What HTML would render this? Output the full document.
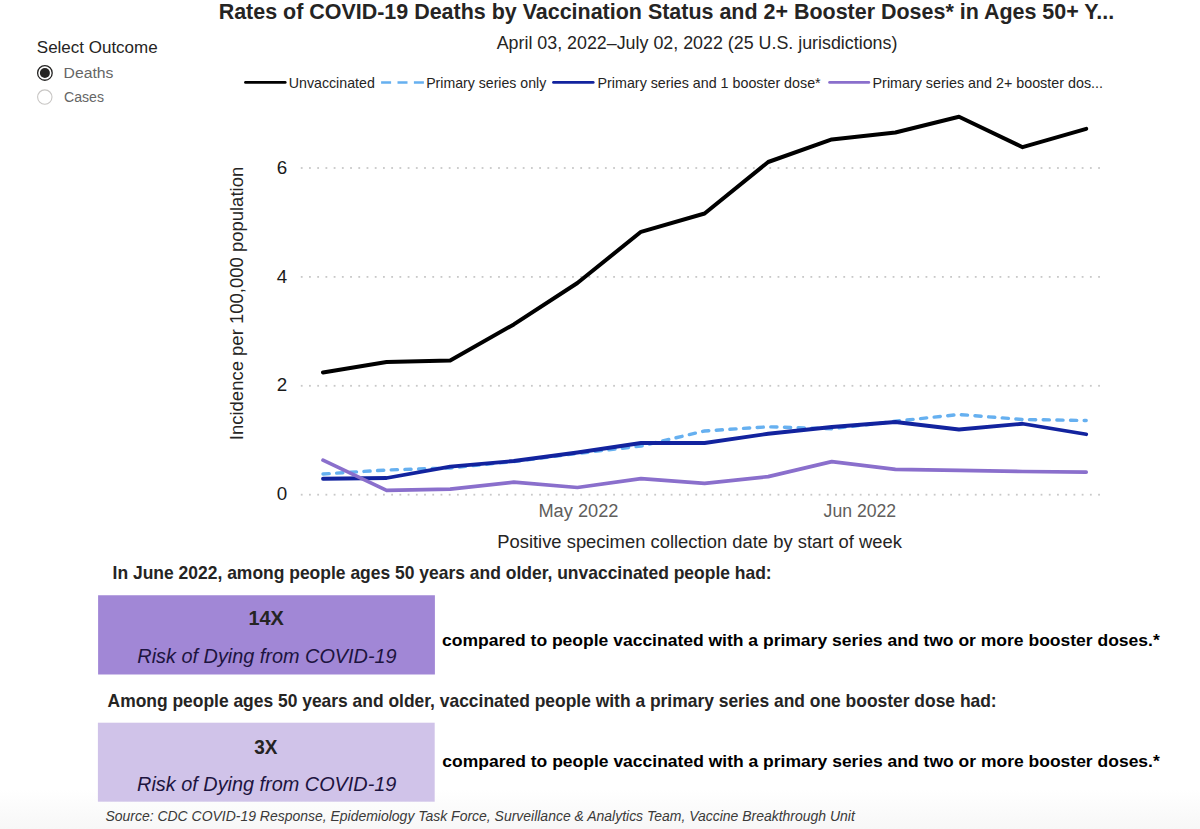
<!DOCTYPE html>
<html><head><meta charset="utf-8"><title>COVID-19 Deaths by Vaccination Status</title>
<style>
html,body{margin:0;padding:0;background:#fff;}
body{width:1200px;height:829px;overflow:hidden;position:relative;font-family:"Liberation Sans",sans-serif;}
.fade{position:absolute;left:0;top:790px;width:1200px;height:39px;background:linear-gradient(#ffffff,#f7f7f7);}
svg{position:absolute;left:0;top:0;}
svg text{font-family:"Liberation Sans",sans-serif;}
</style></head>
<body>
<div class="fade"></div>
<svg width="1200" height="829" viewBox="0 0 1200 829">
<circle cx="44.9" cy="72.95" r="7.3" fill="#fff" stroke="#252423" stroke-width="1.3"/>
<circle cx="44.9" cy="72.95" r="5" fill="#252423"/>
<circle cx="44.8" cy="97.1" r="7.2" fill="#fff" stroke="#c8c6c4" stroke-width="1.1"/>
<line x1="245.5" y1="82.4" x2="285.2" y2="82.4" stroke="#000000" stroke-width="2.8" stroke-linecap="round"/>
<line x1="381.1" y1="82.5" x2="424" y2="82.5" stroke="#66b0f0" stroke-width="2.6" stroke-dasharray="10,6.4"/>
<line x1="553.5" y1="82.4" x2="593.2" y2="82.4" stroke="#12239e" stroke-width="2.8" stroke-linecap="round"/>
<line x1="829.6" y1="82.4" x2="868.8" y2="82.4" stroke="#8a6fcc" stroke-width="2.8" stroke-linecap="round"/>
<rect x="300.80" y="167.10" width="1.8" height="1.8" fill="#c8c8c8"/><rect x="309.02" y="167.10" width="1.8" height="1.8" fill="#c8c8c8"/><rect x="317.24" y="167.10" width="1.8" height="1.8" fill="#c8c8c8"/><rect x="325.46" y="167.10" width="1.8" height="1.8" fill="#c8c8c8"/><rect x="333.68" y="167.10" width="1.8" height="1.8" fill="#c8c8c8"/><rect x="341.90" y="167.10" width="1.8" height="1.8" fill="#c8c8c8"/><rect x="350.12" y="167.10" width="1.8" height="1.8" fill="#c8c8c8"/><rect x="358.34" y="167.10" width="1.8" height="1.8" fill="#c8c8c8"/><rect x="366.56" y="167.10" width="1.8" height="1.8" fill="#c8c8c8"/><rect x="374.78" y="167.10" width="1.8" height="1.8" fill="#c8c8c8"/><rect x="383.00" y="167.10" width="1.8" height="1.8" fill="#c8c8c8"/><rect x="391.22" y="167.10" width="1.8" height="1.8" fill="#c8c8c8"/><rect x="399.44" y="167.10" width="1.8" height="1.8" fill="#c8c8c8"/><rect x="407.66" y="167.10" width="1.8" height="1.8" fill="#c8c8c8"/><rect x="415.88" y="167.10" width="1.8" height="1.8" fill="#c8c8c8"/><rect x="424.10" y="167.10" width="1.8" height="1.8" fill="#c8c8c8"/><rect x="432.32" y="167.10" width="1.8" height="1.8" fill="#c8c8c8"/><rect x="440.54" y="167.10" width="1.8" height="1.8" fill="#c8c8c8"/><rect x="448.76" y="167.10" width="1.8" height="1.8" fill="#c8c8c8"/><rect x="456.98" y="167.10" width="1.8" height="1.8" fill="#c8c8c8"/><rect x="465.20" y="167.10" width="1.8" height="1.8" fill="#c8c8c8"/><rect x="473.42" y="167.10" width="1.8" height="1.8" fill="#c8c8c8"/><rect x="481.64" y="167.10" width="1.8" height="1.8" fill="#c8c8c8"/><rect x="489.86" y="167.10" width="1.8" height="1.8" fill="#c8c8c8"/><rect x="498.08" y="167.10" width="1.8" height="1.8" fill="#c8c8c8"/><rect x="506.30" y="167.10" width="1.8" height="1.8" fill="#c8c8c8"/><rect x="514.52" y="167.10" width="1.8" height="1.8" fill="#c8c8c8"/><rect x="522.74" y="167.10" width="1.8" height="1.8" fill="#c8c8c8"/><rect x="530.96" y="167.10" width="1.8" height="1.8" fill="#c8c8c8"/><rect x="539.18" y="167.10" width="1.8" height="1.8" fill="#c8c8c8"/><rect x="547.40" y="167.10" width="1.8" height="1.8" fill="#c8c8c8"/><rect x="555.62" y="167.10" width="1.8" height="1.8" fill="#c8c8c8"/><rect x="563.84" y="167.10" width="1.8" height="1.8" fill="#c8c8c8"/><rect x="572.06" y="167.10" width="1.8" height="1.8" fill="#c8c8c8"/><rect x="580.28" y="167.10" width="1.8" height="1.8" fill="#c8c8c8"/><rect x="588.50" y="167.10" width="1.8" height="1.8" fill="#c8c8c8"/><rect x="596.72" y="167.10" width="1.8" height="1.8" fill="#c8c8c8"/><rect x="604.94" y="167.10" width="1.8" height="1.8" fill="#c8c8c8"/><rect x="613.16" y="167.10" width="1.8" height="1.8" fill="#c8c8c8"/><rect x="621.38" y="167.10" width="1.8" height="1.8" fill="#c8c8c8"/><rect x="629.60" y="167.10" width="1.8" height="1.8" fill="#c8c8c8"/><rect x="637.82" y="167.10" width="1.8" height="1.8" fill="#c8c8c8"/><rect x="646.04" y="167.10" width="1.8" height="1.8" fill="#c8c8c8"/><rect x="654.26" y="167.10" width="1.8" height="1.8" fill="#c8c8c8"/><rect x="662.48" y="167.10" width="1.8" height="1.8" fill="#c8c8c8"/><rect x="670.70" y="167.10" width="1.8" height="1.8" fill="#c8c8c8"/><rect x="678.92" y="167.10" width="1.8" height="1.8" fill="#c8c8c8"/><rect x="687.14" y="167.10" width="1.8" height="1.8" fill="#c8c8c8"/><rect x="695.36" y="167.10" width="1.8" height="1.8" fill="#c8c8c8"/><rect x="703.58" y="167.10" width="1.8" height="1.8" fill="#c8c8c8"/><rect x="711.80" y="167.10" width="1.8" height="1.8" fill="#c8c8c8"/><rect x="720.02" y="167.10" width="1.8" height="1.8" fill="#c8c8c8"/><rect x="728.24" y="167.10" width="1.8" height="1.8" fill="#c8c8c8"/><rect x="736.46" y="167.10" width="1.8" height="1.8" fill="#c8c8c8"/><rect x="744.68" y="167.10" width="1.8" height="1.8" fill="#c8c8c8"/><rect x="752.90" y="167.10" width="1.8" height="1.8" fill="#c8c8c8"/><rect x="761.12" y="167.10" width="1.8" height="1.8" fill="#c8c8c8"/><rect x="769.34" y="167.10" width="1.8" height="1.8" fill="#c8c8c8"/><rect x="777.56" y="167.10" width="1.8" height="1.8" fill="#c8c8c8"/><rect x="785.78" y="167.10" width="1.8" height="1.8" fill="#c8c8c8"/><rect x="794.00" y="167.10" width="1.8" height="1.8" fill="#c8c8c8"/><rect x="802.22" y="167.10" width="1.8" height="1.8" fill="#c8c8c8"/><rect x="810.44" y="167.10" width="1.8" height="1.8" fill="#c8c8c8"/><rect x="818.66" y="167.10" width="1.8" height="1.8" fill="#c8c8c8"/><rect x="826.88" y="167.10" width="1.8" height="1.8" fill="#c8c8c8"/><rect x="835.10" y="167.10" width="1.8" height="1.8" fill="#c8c8c8"/><rect x="843.32" y="167.10" width="1.8" height="1.8" fill="#c8c8c8"/><rect x="851.54" y="167.10" width="1.8" height="1.8" fill="#c8c8c8"/><rect x="859.76" y="167.10" width="1.8" height="1.8" fill="#c8c8c8"/><rect x="867.98" y="167.10" width="1.8" height="1.8" fill="#c8c8c8"/><rect x="876.20" y="167.10" width="1.8" height="1.8" fill="#c8c8c8"/><rect x="884.42" y="167.10" width="1.8" height="1.8" fill="#c8c8c8"/><rect x="892.64" y="167.10" width="1.8" height="1.8" fill="#c8c8c8"/><rect x="900.86" y="167.10" width="1.8" height="1.8" fill="#c8c8c8"/><rect x="909.08" y="167.10" width="1.8" height="1.8" fill="#c8c8c8"/><rect x="917.30" y="167.10" width="1.8" height="1.8" fill="#c8c8c8"/><rect x="925.52" y="167.10" width="1.8" height="1.8" fill="#c8c8c8"/><rect x="933.74" y="167.10" width="1.8" height="1.8" fill="#c8c8c8"/><rect x="941.96" y="167.10" width="1.8" height="1.8" fill="#c8c8c8"/><rect x="950.18" y="167.10" width="1.8" height="1.8" fill="#c8c8c8"/><rect x="958.40" y="167.10" width="1.8" height="1.8" fill="#c8c8c8"/><rect x="966.62" y="167.10" width="1.8" height="1.8" fill="#c8c8c8"/><rect x="974.84" y="167.10" width="1.8" height="1.8" fill="#c8c8c8"/><rect x="983.06" y="167.10" width="1.8" height="1.8" fill="#c8c8c8"/><rect x="991.28" y="167.10" width="1.8" height="1.8" fill="#c8c8c8"/><rect x="999.50" y="167.10" width="1.8" height="1.8" fill="#c8c8c8"/><rect x="1007.72" y="167.10" width="1.8" height="1.8" fill="#c8c8c8"/><rect x="1015.94" y="167.10" width="1.8" height="1.8" fill="#c8c8c8"/><rect x="1024.16" y="167.10" width="1.8" height="1.8" fill="#c8c8c8"/><rect x="1032.38" y="167.10" width="1.8" height="1.8" fill="#c8c8c8"/><rect x="1040.60" y="167.10" width="1.8" height="1.8" fill="#c8c8c8"/><rect x="1048.82" y="167.10" width="1.8" height="1.8" fill="#c8c8c8"/><rect x="1057.04" y="167.10" width="1.8" height="1.8" fill="#c8c8c8"/><rect x="1065.26" y="167.10" width="1.8" height="1.8" fill="#c8c8c8"/><rect x="1073.48" y="167.10" width="1.8" height="1.8" fill="#c8c8c8"/><rect x="1081.70" y="167.10" width="1.8" height="1.8" fill="#c8c8c8"/><rect x="1089.92" y="167.10" width="1.8" height="1.8" fill="#c8c8c8"/><rect x="1098.14" y="167.10" width="1.8" height="1.8" fill="#c8c8c8"/><rect x="300.80" y="276.00" width="1.8" height="1.8" fill="#c8c8c8"/><rect x="309.02" y="276.00" width="1.8" height="1.8" fill="#c8c8c8"/><rect x="317.24" y="276.00" width="1.8" height="1.8" fill="#c8c8c8"/><rect x="325.46" y="276.00" width="1.8" height="1.8" fill="#c8c8c8"/><rect x="333.68" y="276.00" width="1.8" height="1.8" fill="#c8c8c8"/><rect x="341.90" y="276.00" width="1.8" height="1.8" fill="#c8c8c8"/><rect x="350.12" y="276.00" width="1.8" height="1.8" fill="#c8c8c8"/><rect x="358.34" y="276.00" width="1.8" height="1.8" fill="#c8c8c8"/><rect x="366.56" y="276.00" width="1.8" height="1.8" fill="#c8c8c8"/><rect x="374.78" y="276.00" width="1.8" height="1.8" fill="#c8c8c8"/><rect x="383.00" y="276.00" width="1.8" height="1.8" fill="#c8c8c8"/><rect x="391.22" y="276.00" width="1.8" height="1.8" fill="#c8c8c8"/><rect x="399.44" y="276.00" width="1.8" height="1.8" fill="#c8c8c8"/><rect x="407.66" y="276.00" width="1.8" height="1.8" fill="#c8c8c8"/><rect x="415.88" y="276.00" width="1.8" height="1.8" fill="#c8c8c8"/><rect x="424.10" y="276.00" width="1.8" height="1.8" fill="#c8c8c8"/><rect x="432.32" y="276.00" width="1.8" height="1.8" fill="#c8c8c8"/><rect x="440.54" y="276.00" width="1.8" height="1.8" fill="#c8c8c8"/><rect x="448.76" y="276.00" width="1.8" height="1.8" fill="#c8c8c8"/><rect x="456.98" y="276.00" width="1.8" height="1.8" fill="#c8c8c8"/><rect x="465.20" y="276.00" width="1.8" height="1.8" fill="#c8c8c8"/><rect x="473.42" y="276.00" width="1.8" height="1.8" fill="#c8c8c8"/><rect x="481.64" y="276.00" width="1.8" height="1.8" fill="#c8c8c8"/><rect x="489.86" y="276.00" width="1.8" height="1.8" fill="#c8c8c8"/><rect x="498.08" y="276.00" width="1.8" height="1.8" fill="#c8c8c8"/><rect x="506.30" y="276.00" width="1.8" height="1.8" fill="#c8c8c8"/><rect x="514.52" y="276.00" width="1.8" height="1.8" fill="#c8c8c8"/><rect x="522.74" y="276.00" width="1.8" height="1.8" fill="#c8c8c8"/><rect x="530.96" y="276.00" width="1.8" height="1.8" fill="#c8c8c8"/><rect x="539.18" y="276.00" width="1.8" height="1.8" fill="#c8c8c8"/><rect x="547.40" y="276.00" width="1.8" height="1.8" fill="#c8c8c8"/><rect x="555.62" y="276.00" width="1.8" height="1.8" fill="#c8c8c8"/><rect x="563.84" y="276.00" width="1.8" height="1.8" fill="#c8c8c8"/><rect x="572.06" y="276.00" width="1.8" height="1.8" fill="#c8c8c8"/><rect x="580.28" y="276.00" width="1.8" height="1.8" fill="#c8c8c8"/><rect x="588.50" y="276.00" width="1.8" height="1.8" fill="#c8c8c8"/><rect x="596.72" y="276.00" width="1.8" height="1.8" fill="#c8c8c8"/><rect x="604.94" y="276.00" width="1.8" height="1.8" fill="#c8c8c8"/><rect x="613.16" y="276.00" width="1.8" height="1.8" fill="#c8c8c8"/><rect x="621.38" y="276.00" width="1.8" height="1.8" fill="#c8c8c8"/><rect x="629.60" y="276.00" width="1.8" height="1.8" fill="#c8c8c8"/><rect x="637.82" y="276.00" width="1.8" height="1.8" fill="#c8c8c8"/><rect x="646.04" y="276.00" width="1.8" height="1.8" fill="#c8c8c8"/><rect x="654.26" y="276.00" width="1.8" height="1.8" fill="#c8c8c8"/><rect x="662.48" y="276.00" width="1.8" height="1.8" fill="#c8c8c8"/><rect x="670.70" y="276.00" width="1.8" height="1.8" fill="#c8c8c8"/><rect x="678.92" y="276.00" width="1.8" height="1.8" fill="#c8c8c8"/><rect x="687.14" y="276.00" width="1.8" height="1.8" fill="#c8c8c8"/><rect x="695.36" y="276.00" width="1.8" height="1.8" fill="#c8c8c8"/><rect x="703.58" y="276.00" width="1.8" height="1.8" fill="#c8c8c8"/><rect x="711.80" y="276.00" width="1.8" height="1.8" fill="#c8c8c8"/><rect x="720.02" y="276.00" width="1.8" height="1.8" fill="#c8c8c8"/><rect x="728.24" y="276.00" width="1.8" height="1.8" fill="#c8c8c8"/><rect x="736.46" y="276.00" width="1.8" height="1.8" fill="#c8c8c8"/><rect x="744.68" y="276.00" width="1.8" height="1.8" fill="#c8c8c8"/><rect x="752.90" y="276.00" width="1.8" height="1.8" fill="#c8c8c8"/><rect x="761.12" y="276.00" width="1.8" height="1.8" fill="#c8c8c8"/><rect x="769.34" y="276.00" width="1.8" height="1.8" fill="#c8c8c8"/><rect x="777.56" y="276.00" width="1.8" height="1.8" fill="#c8c8c8"/><rect x="785.78" y="276.00" width="1.8" height="1.8" fill="#c8c8c8"/><rect x="794.00" y="276.00" width="1.8" height="1.8" fill="#c8c8c8"/><rect x="802.22" y="276.00" width="1.8" height="1.8" fill="#c8c8c8"/><rect x="810.44" y="276.00" width="1.8" height="1.8" fill="#c8c8c8"/><rect x="818.66" y="276.00" width="1.8" height="1.8" fill="#c8c8c8"/><rect x="826.88" y="276.00" width="1.8" height="1.8" fill="#c8c8c8"/><rect x="835.10" y="276.00" width="1.8" height="1.8" fill="#c8c8c8"/><rect x="843.32" y="276.00" width="1.8" height="1.8" fill="#c8c8c8"/><rect x="851.54" y="276.00" width="1.8" height="1.8" fill="#c8c8c8"/><rect x="859.76" y="276.00" width="1.8" height="1.8" fill="#c8c8c8"/><rect x="867.98" y="276.00" width="1.8" height="1.8" fill="#c8c8c8"/><rect x="876.20" y="276.00" width="1.8" height="1.8" fill="#c8c8c8"/><rect x="884.42" y="276.00" width="1.8" height="1.8" fill="#c8c8c8"/><rect x="892.64" y="276.00" width="1.8" height="1.8" fill="#c8c8c8"/><rect x="900.86" y="276.00" width="1.8" height="1.8" fill="#c8c8c8"/><rect x="909.08" y="276.00" width="1.8" height="1.8" fill="#c8c8c8"/><rect x="917.30" y="276.00" width="1.8" height="1.8" fill="#c8c8c8"/><rect x="925.52" y="276.00" width="1.8" height="1.8" fill="#c8c8c8"/><rect x="933.74" y="276.00" width="1.8" height="1.8" fill="#c8c8c8"/><rect x="941.96" y="276.00" width="1.8" height="1.8" fill="#c8c8c8"/><rect x="950.18" y="276.00" width="1.8" height="1.8" fill="#c8c8c8"/><rect x="958.40" y="276.00" width="1.8" height="1.8" fill="#c8c8c8"/><rect x="966.62" y="276.00" width="1.8" height="1.8" fill="#c8c8c8"/><rect x="974.84" y="276.00" width="1.8" height="1.8" fill="#c8c8c8"/><rect x="983.06" y="276.00" width="1.8" height="1.8" fill="#c8c8c8"/><rect x="991.28" y="276.00" width="1.8" height="1.8" fill="#c8c8c8"/><rect x="999.50" y="276.00" width="1.8" height="1.8" fill="#c8c8c8"/><rect x="1007.72" y="276.00" width="1.8" height="1.8" fill="#c8c8c8"/><rect x="1015.94" y="276.00" width="1.8" height="1.8" fill="#c8c8c8"/><rect x="1024.16" y="276.00" width="1.8" height="1.8" fill="#c8c8c8"/><rect x="1032.38" y="276.00" width="1.8" height="1.8" fill="#c8c8c8"/><rect x="1040.60" y="276.00" width="1.8" height="1.8" fill="#c8c8c8"/><rect x="1048.82" y="276.00" width="1.8" height="1.8" fill="#c8c8c8"/><rect x="1057.04" y="276.00" width="1.8" height="1.8" fill="#c8c8c8"/><rect x="1065.26" y="276.00" width="1.8" height="1.8" fill="#c8c8c8"/><rect x="1073.48" y="276.00" width="1.8" height="1.8" fill="#c8c8c8"/><rect x="1081.70" y="276.00" width="1.8" height="1.8" fill="#c8c8c8"/><rect x="1089.92" y="276.00" width="1.8" height="1.8" fill="#c8c8c8"/><rect x="1098.14" y="276.00" width="1.8" height="1.8" fill="#c8c8c8"/><rect x="300.80" y="384.90" width="1.8" height="1.8" fill="#c8c8c8"/><rect x="309.02" y="384.90" width="1.8" height="1.8" fill="#c8c8c8"/><rect x="317.24" y="384.90" width="1.8" height="1.8" fill="#c8c8c8"/><rect x="325.46" y="384.90" width="1.8" height="1.8" fill="#c8c8c8"/><rect x="333.68" y="384.90" width="1.8" height="1.8" fill="#c8c8c8"/><rect x="341.90" y="384.90" width="1.8" height="1.8" fill="#c8c8c8"/><rect x="350.12" y="384.90" width="1.8" height="1.8" fill="#c8c8c8"/><rect x="358.34" y="384.90" width="1.8" height="1.8" fill="#c8c8c8"/><rect x="366.56" y="384.90" width="1.8" height="1.8" fill="#c8c8c8"/><rect x="374.78" y="384.90" width="1.8" height="1.8" fill="#c8c8c8"/><rect x="383.00" y="384.90" width="1.8" height="1.8" fill="#c8c8c8"/><rect x="391.22" y="384.90" width="1.8" height="1.8" fill="#c8c8c8"/><rect x="399.44" y="384.90" width="1.8" height="1.8" fill="#c8c8c8"/><rect x="407.66" y="384.90" width="1.8" height="1.8" fill="#c8c8c8"/><rect x="415.88" y="384.90" width="1.8" height="1.8" fill="#c8c8c8"/><rect x="424.10" y="384.90" width="1.8" height="1.8" fill="#c8c8c8"/><rect x="432.32" y="384.90" width="1.8" height="1.8" fill="#c8c8c8"/><rect x="440.54" y="384.90" width="1.8" height="1.8" fill="#c8c8c8"/><rect x="448.76" y="384.90" width="1.8" height="1.8" fill="#c8c8c8"/><rect x="456.98" y="384.90" width="1.8" height="1.8" fill="#c8c8c8"/><rect x="465.20" y="384.90" width="1.8" height="1.8" fill="#c8c8c8"/><rect x="473.42" y="384.90" width="1.8" height="1.8" fill="#c8c8c8"/><rect x="481.64" y="384.90" width="1.8" height="1.8" fill="#c8c8c8"/><rect x="489.86" y="384.90" width="1.8" height="1.8" fill="#c8c8c8"/><rect x="498.08" y="384.90" width="1.8" height="1.8" fill="#c8c8c8"/><rect x="506.30" y="384.90" width="1.8" height="1.8" fill="#c8c8c8"/><rect x="514.52" y="384.90" width="1.8" height="1.8" fill="#c8c8c8"/><rect x="522.74" y="384.90" width="1.8" height="1.8" fill="#c8c8c8"/><rect x="530.96" y="384.90" width="1.8" height="1.8" fill="#c8c8c8"/><rect x="539.18" y="384.90" width="1.8" height="1.8" fill="#c8c8c8"/><rect x="547.40" y="384.90" width="1.8" height="1.8" fill="#c8c8c8"/><rect x="555.62" y="384.90" width="1.8" height="1.8" fill="#c8c8c8"/><rect x="563.84" y="384.90" width="1.8" height="1.8" fill="#c8c8c8"/><rect x="572.06" y="384.90" width="1.8" height="1.8" fill="#c8c8c8"/><rect x="580.28" y="384.90" width="1.8" height="1.8" fill="#c8c8c8"/><rect x="588.50" y="384.90" width="1.8" height="1.8" fill="#c8c8c8"/><rect x="596.72" y="384.90" width="1.8" height="1.8" fill="#c8c8c8"/><rect x="604.94" y="384.90" width="1.8" height="1.8" fill="#c8c8c8"/><rect x="613.16" y="384.90" width="1.8" height="1.8" fill="#c8c8c8"/><rect x="621.38" y="384.90" width="1.8" height="1.8" fill="#c8c8c8"/><rect x="629.60" y="384.90" width="1.8" height="1.8" fill="#c8c8c8"/><rect x="637.82" y="384.90" width="1.8" height="1.8" fill="#c8c8c8"/><rect x="646.04" y="384.90" width="1.8" height="1.8" fill="#c8c8c8"/><rect x="654.26" y="384.90" width="1.8" height="1.8" fill="#c8c8c8"/><rect x="662.48" y="384.90" width="1.8" height="1.8" fill="#c8c8c8"/><rect x="670.70" y="384.90" width="1.8" height="1.8" fill="#c8c8c8"/><rect x="678.92" y="384.90" width="1.8" height="1.8" fill="#c8c8c8"/><rect x="687.14" y="384.90" width="1.8" height="1.8" fill="#c8c8c8"/><rect x="695.36" y="384.90" width="1.8" height="1.8" fill="#c8c8c8"/><rect x="703.58" y="384.90" width="1.8" height="1.8" fill="#c8c8c8"/><rect x="711.80" y="384.90" width="1.8" height="1.8" fill="#c8c8c8"/><rect x="720.02" y="384.90" width="1.8" height="1.8" fill="#c8c8c8"/><rect x="728.24" y="384.90" width="1.8" height="1.8" fill="#c8c8c8"/><rect x="736.46" y="384.90" width="1.8" height="1.8" fill="#c8c8c8"/><rect x="744.68" y="384.90" width="1.8" height="1.8" fill="#c8c8c8"/><rect x="752.90" y="384.90" width="1.8" height="1.8" fill="#c8c8c8"/><rect x="761.12" y="384.90" width="1.8" height="1.8" fill="#c8c8c8"/><rect x="769.34" y="384.90" width="1.8" height="1.8" fill="#c8c8c8"/><rect x="777.56" y="384.90" width="1.8" height="1.8" fill="#c8c8c8"/><rect x="785.78" y="384.90" width="1.8" height="1.8" fill="#c8c8c8"/><rect x="794.00" y="384.90" width="1.8" height="1.8" fill="#c8c8c8"/><rect x="802.22" y="384.90" width="1.8" height="1.8" fill="#c8c8c8"/><rect x="810.44" y="384.90" width="1.8" height="1.8" fill="#c8c8c8"/><rect x="818.66" y="384.90" width="1.8" height="1.8" fill="#c8c8c8"/><rect x="826.88" y="384.90" width="1.8" height="1.8" fill="#c8c8c8"/><rect x="835.10" y="384.90" width="1.8" height="1.8" fill="#c8c8c8"/><rect x="843.32" y="384.90" width="1.8" height="1.8" fill="#c8c8c8"/><rect x="851.54" y="384.90" width="1.8" height="1.8" fill="#c8c8c8"/><rect x="859.76" y="384.90" width="1.8" height="1.8" fill="#c8c8c8"/><rect x="867.98" y="384.90" width="1.8" height="1.8" fill="#c8c8c8"/><rect x="876.20" y="384.90" width="1.8" height="1.8" fill="#c8c8c8"/><rect x="884.42" y="384.90" width="1.8" height="1.8" fill="#c8c8c8"/><rect x="892.64" y="384.90" width="1.8" height="1.8" fill="#c8c8c8"/><rect x="900.86" y="384.90" width="1.8" height="1.8" fill="#c8c8c8"/><rect x="909.08" y="384.90" width="1.8" height="1.8" fill="#c8c8c8"/><rect x="917.30" y="384.90" width="1.8" height="1.8" fill="#c8c8c8"/><rect x="925.52" y="384.90" width="1.8" height="1.8" fill="#c8c8c8"/><rect x="933.74" y="384.90" width="1.8" height="1.8" fill="#c8c8c8"/><rect x="941.96" y="384.90" width="1.8" height="1.8" fill="#c8c8c8"/><rect x="950.18" y="384.90" width="1.8" height="1.8" fill="#c8c8c8"/><rect x="958.40" y="384.90" width="1.8" height="1.8" fill="#c8c8c8"/><rect x="966.62" y="384.90" width="1.8" height="1.8" fill="#c8c8c8"/><rect x="974.84" y="384.90" width="1.8" height="1.8" fill="#c8c8c8"/><rect x="983.06" y="384.90" width="1.8" height="1.8" fill="#c8c8c8"/><rect x="991.28" y="384.90" width="1.8" height="1.8" fill="#c8c8c8"/><rect x="999.50" y="384.90" width="1.8" height="1.8" fill="#c8c8c8"/><rect x="1007.72" y="384.90" width="1.8" height="1.8" fill="#c8c8c8"/><rect x="1015.94" y="384.90" width="1.8" height="1.8" fill="#c8c8c8"/><rect x="1024.16" y="384.90" width="1.8" height="1.8" fill="#c8c8c8"/><rect x="1032.38" y="384.90" width="1.8" height="1.8" fill="#c8c8c8"/><rect x="1040.60" y="384.90" width="1.8" height="1.8" fill="#c8c8c8"/><rect x="1048.82" y="384.90" width="1.8" height="1.8" fill="#c8c8c8"/><rect x="1057.04" y="384.90" width="1.8" height="1.8" fill="#c8c8c8"/><rect x="1065.26" y="384.90" width="1.8" height="1.8" fill="#c8c8c8"/><rect x="1073.48" y="384.90" width="1.8" height="1.8" fill="#c8c8c8"/><rect x="1081.70" y="384.90" width="1.8" height="1.8" fill="#c8c8c8"/><rect x="1089.92" y="384.90" width="1.8" height="1.8" fill="#c8c8c8"/><rect x="1098.14" y="384.90" width="1.8" height="1.8" fill="#c8c8c8"/><rect x="300.80" y="493.80" width="1.8" height="1.8" fill="#c8c8c8"/><rect x="309.02" y="493.80" width="1.8" height="1.8" fill="#c8c8c8"/><rect x="317.24" y="493.80" width="1.8" height="1.8" fill="#c8c8c8"/><rect x="325.46" y="493.80" width="1.8" height="1.8" fill="#c8c8c8"/><rect x="333.68" y="493.80" width="1.8" height="1.8" fill="#c8c8c8"/><rect x="341.90" y="493.80" width="1.8" height="1.8" fill="#c8c8c8"/><rect x="350.12" y="493.80" width="1.8" height="1.8" fill="#c8c8c8"/><rect x="358.34" y="493.80" width="1.8" height="1.8" fill="#c8c8c8"/><rect x="366.56" y="493.80" width="1.8" height="1.8" fill="#c8c8c8"/><rect x="374.78" y="493.80" width="1.8" height="1.8" fill="#c8c8c8"/><rect x="383.00" y="493.80" width="1.8" height="1.8" fill="#c8c8c8"/><rect x="391.22" y="493.80" width="1.8" height="1.8" fill="#c8c8c8"/><rect x="399.44" y="493.80" width="1.8" height="1.8" fill="#c8c8c8"/><rect x="407.66" y="493.80" width="1.8" height="1.8" fill="#c8c8c8"/><rect x="415.88" y="493.80" width="1.8" height="1.8" fill="#c8c8c8"/><rect x="424.10" y="493.80" width="1.8" height="1.8" fill="#c8c8c8"/><rect x="432.32" y="493.80" width="1.8" height="1.8" fill="#c8c8c8"/><rect x="440.54" y="493.80" width="1.8" height="1.8" fill="#c8c8c8"/><rect x="448.76" y="493.80" width="1.8" height="1.8" fill="#c8c8c8"/><rect x="456.98" y="493.80" width="1.8" height="1.8" fill="#c8c8c8"/><rect x="465.20" y="493.80" width="1.8" height="1.8" fill="#c8c8c8"/><rect x="473.42" y="493.80" width="1.8" height="1.8" fill="#c8c8c8"/><rect x="481.64" y="493.80" width="1.8" height="1.8" fill="#c8c8c8"/><rect x="489.86" y="493.80" width="1.8" height="1.8" fill="#c8c8c8"/><rect x="498.08" y="493.80" width="1.8" height="1.8" fill="#c8c8c8"/><rect x="506.30" y="493.80" width="1.8" height="1.8" fill="#c8c8c8"/><rect x="514.52" y="493.80" width="1.8" height="1.8" fill="#c8c8c8"/><rect x="522.74" y="493.80" width="1.8" height="1.8" fill="#c8c8c8"/><rect x="530.96" y="493.80" width="1.8" height="1.8" fill="#c8c8c8"/><rect x="539.18" y="493.80" width="1.8" height="1.8" fill="#c8c8c8"/><rect x="547.40" y="493.80" width="1.8" height="1.8" fill="#c8c8c8"/><rect x="555.62" y="493.80" width="1.8" height="1.8" fill="#c8c8c8"/><rect x="563.84" y="493.80" width="1.8" height="1.8" fill="#c8c8c8"/><rect x="572.06" y="493.80" width="1.8" height="1.8" fill="#c8c8c8"/><rect x="580.28" y="493.80" width="1.8" height="1.8" fill="#c8c8c8"/><rect x="588.50" y="493.80" width="1.8" height="1.8" fill="#c8c8c8"/><rect x="596.72" y="493.80" width="1.8" height="1.8" fill="#c8c8c8"/><rect x="604.94" y="493.80" width="1.8" height="1.8" fill="#c8c8c8"/><rect x="613.16" y="493.80" width="1.8" height="1.8" fill="#c8c8c8"/><rect x="621.38" y="493.80" width="1.8" height="1.8" fill="#c8c8c8"/><rect x="629.60" y="493.80" width="1.8" height="1.8" fill="#c8c8c8"/><rect x="637.82" y="493.80" width="1.8" height="1.8" fill="#c8c8c8"/><rect x="646.04" y="493.80" width="1.8" height="1.8" fill="#c8c8c8"/><rect x="654.26" y="493.80" width="1.8" height="1.8" fill="#c8c8c8"/><rect x="662.48" y="493.80" width="1.8" height="1.8" fill="#c8c8c8"/><rect x="670.70" y="493.80" width="1.8" height="1.8" fill="#c8c8c8"/><rect x="678.92" y="493.80" width="1.8" height="1.8" fill="#c8c8c8"/><rect x="687.14" y="493.80" width="1.8" height="1.8" fill="#c8c8c8"/><rect x="695.36" y="493.80" width="1.8" height="1.8" fill="#c8c8c8"/><rect x="703.58" y="493.80" width="1.8" height="1.8" fill="#c8c8c8"/><rect x="711.80" y="493.80" width="1.8" height="1.8" fill="#c8c8c8"/><rect x="720.02" y="493.80" width="1.8" height="1.8" fill="#c8c8c8"/><rect x="728.24" y="493.80" width="1.8" height="1.8" fill="#c8c8c8"/><rect x="736.46" y="493.80" width="1.8" height="1.8" fill="#c8c8c8"/><rect x="744.68" y="493.80" width="1.8" height="1.8" fill="#c8c8c8"/><rect x="752.90" y="493.80" width="1.8" height="1.8" fill="#c8c8c8"/><rect x="761.12" y="493.80" width="1.8" height="1.8" fill="#c8c8c8"/><rect x="769.34" y="493.80" width="1.8" height="1.8" fill="#c8c8c8"/><rect x="777.56" y="493.80" width="1.8" height="1.8" fill="#c8c8c8"/><rect x="785.78" y="493.80" width="1.8" height="1.8" fill="#c8c8c8"/><rect x="794.00" y="493.80" width="1.8" height="1.8" fill="#c8c8c8"/><rect x="802.22" y="493.80" width="1.8" height="1.8" fill="#c8c8c8"/><rect x="810.44" y="493.80" width="1.8" height="1.8" fill="#c8c8c8"/><rect x="818.66" y="493.80" width="1.8" height="1.8" fill="#c8c8c8"/><rect x="826.88" y="493.80" width="1.8" height="1.8" fill="#c8c8c8"/><rect x="835.10" y="493.80" width="1.8" height="1.8" fill="#c8c8c8"/><rect x="843.32" y="493.80" width="1.8" height="1.8" fill="#c8c8c8"/><rect x="851.54" y="493.80" width="1.8" height="1.8" fill="#c8c8c8"/><rect x="859.76" y="493.80" width="1.8" height="1.8" fill="#c8c8c8"/><rect x="867.98" y="493.80" width="1.8" height="1.8" fill="#c8c8c8"/><rect x="876.20" y="493.80" width="1.8" height="1.8" fill="#c8c8c8"/><rect x="884.42" y="493.80" width="1.8" height="1.8" fill="#c8c8c8"/><rect x="892.64" y="493.80" width="1.8" height="1.8" fill="#c8c8c8"/><rect x="900.86" y="493.80" width="1.8" height="1.8" fill="#c8c8c8"/><rect x="909.08" y="493.80" width="1.8" height="1.8" fill="#c8c8c8"/><rect x="917.30" y="493.80" width="1.8" height="1.8" fill="#c8c8c8"/><rect x="925.52" y="493.80" width="1.8" height="1.8" fill="#c8c8c8"/><rect x="933.74" y="493.80" width="1.8" height="1.8" fill="#c8c8c8"/><rect x="941.96" y="493.80" width="1.8" height="1.8" fill="#c8c8c8"/><rect x="950.18" y="493.80" width="1.8" height="1.8" fill="#c8c8c8"/><rect x="958.40" y="493.80" width="1.8" height="1.8" fill="#c8c8c8"/><rect x="966.62" y="493.80" width="1.8" height="1.8" fill="#c8c8c8"/><rect x="974.84" y="493.80" width="1.8" height="1.8" fill="#c8c8c8"/><rect x="983.06" y="493.80" width="1.8" height="1.8" fill="#c8c8c8"/><rect x="991.28" y="493.80" width="1.8" height="1.8" fill="#c8c8c8"/><rect x="999.50" y="493.80" width="1.8" height="1.8" fill="#c8c8c8"/><rect x="1007.72" y="493.80" width="1.8" height="1.8" fill="#c8c8c8"/><rect x="1015.94" y="493.80" width="1.8" height="1.8" fill="#c8c8c8"/><rect x="1024.16" y="493.80" width="1.8" height="1.8" fill="#c8c8c8"/><rect x="1032.38" y="493.80" width="1.8" height="1.8" fill="#c8c8c8"/><rect x="1040.60" y="493.80" width="1.8" height="1.8" fill="#c8c8c8"/><rect x="1048.82" y="493.80" width="1.8" height="1.8" fill="#c8c8c8"/><rect x="1057.04" y="493.80" width="1.8" height="1.8" fill="#c8c8c8"/><rect x="1065.26" y="493.80" width="1.8" height="1.8" fill="#c8c8c8"/><rect x="1073.48" y="493.80" width="1.8" height="1.8" fill="#c8c8c8"/><rect x="1081.70" y="493.80" width="1.8" height="1.8" fill="#c8c8c8"/><rect x="1089.92" y="493.80" width="1.8" height="1.8" fill="#c8c8c8"/><rect x="1098.14" y="493.80" width="1.8" height="1.8" fill="#c8c8c8"/>
<polyline points="323.0,372.50 386.6,362.00 450.2,360.50 513.8,324.40 577.4,283.00 641.0,231.80 704.6,213.50 768.2,162.00 831.8,139.40 895.4,132.50 959.0,116.80 1022.6,147.20 1086.2,128.80" fill="none" stroke="#000000" stroke-width="4" stroke-linejoin="round" stroke-linecap="round"/>
<polyline points="323.0,474.00 386.6,470.00 450.2,468.00 513.8,461.50 577.4,453.50 641.0,446.00 704.6,431.00 768.2,426.75 831.8,428.75 895.4,421.25 959.0,414.50 1022.6,419.50 1086.2,420.50" fill="none" stroke="#66b0f0" stroke-width="3.4" stroke-dasharray="6.2,7.47" stroke-linejoin="round" stroke-linecap="round"/>
<polyline points="323.0,478.75 386.6,478.00 450.2,466.60 513.8,461.00 577.4,452.50 641.0,443.00 704.6,443.00 768.2,433.75 831.8,427.00 895.4,422.00 959.0,429.50 1022.6,423.75 1086.2,434.25" fill="none" stroke="#12239e" stroke-width="3.8" stroke-linejoin="round" stroke-linecap="round"/>
<polyline points="323.0,460.20 386.6,490.40 450.2,489.20 513.8,482.20 577.4,487.50 641.0,478.70 704.6,483.30 768.2,476.60 831.8,461.60 895.4,469.30 959.0,470.40 1022.6,471.50 1086.2,472.20" fill="none" stroke="#8a6fcc" stroke-width="3.7" stroke-linejoin="round" stroke-linecap="round"/>
<rect x="98.1" y="595.25" width="336.8" height="79.25" fill="#a187d6"/>
<rect x="97.9" y="722.7" width="336.8" height="79" fill="#d0c3e9"/>
<text x="218.66" y="18.75" font-size="21.2" font-weight="bold" font-style="normal" fill="#252423" textLength="895.51" lengthAdjust="spacingAndGlyphs">Rates of COVID-19 Deaths by Vaccination Status and 2+ Booster Doses* in Ages 50+ Y...</text>
<text x="496.67" y="48.7" font-size="18.2" font-weight="normal" font-style="normal" fill="#252423" textLength="400.74" lengthAdjust="spacingAndGlyphs">April 03, 2022–July 02, 2022 (25 U.S. jurisdictions)</text>
<text x="36.83" y="52.6" font-size="16.9" font-weight="normal" font-style="normal" fill="#252423" textLength="120.83" lengthAdjust="spacingAndGlyphs">Select Outcome</text>
<text x="63.61" y="78.4" font-size="15.1" font-weight="normal" font-style="normal" fill="#666666" textLength="49.86" lengthAdjust="spacingAndGlyphs">Deaths</text>
<text x="63.98" y="102.4" font-size="15.1" font-weight="normal" font-style="normal" fill="#666666" textLength="40.03" lengthAdjust="spacingAndGlyphs">Cases</text>
<text x="288.80" y="88.3" font-size="14.6" font-weight="normal" font-style="normal" fill="#252423" textLength="86.01" lengthAdjust="spacingAndGlyphs">Unvaccinated</text>
<text x="426.14" y="88.3" font-size="14.6" font-weight="normal" font-style="normal" fill="#252423" textLength="120.14" lengthAdjust="spacingAndGlyphs">Primary series only</text>
<text x="597.58" y="88.3" font-size="14.6" font-weight="normal" font-style="normal" fill="#252423" textLength="223.05" lengthAdjust="spacingAndGlyphs">Primary series and 1 booster dose*</text>
<text x="872.57" y="88.3" font-size="14.6" font-weight="normal" font-style="normal" fill="#252423" textLength="230.43" lengthAdjust="spacingAndGlyphs">Primary series and 2+ booster dos...</text>
<text x="538.41" y="517.2" font-size="18.0" font-weight="normal" font-style="normal" fill="#605e5c" textLength="80.01" lengthAdjust="spacingAndGlyphs">May 2022</text>
<text x="823.62" y="517.2" font-size="18.0" font-weight="normal" font-style="normal" fill="#605e5c" textLength="72.56" lengthAdjust="spacingAndGlyphs">Jun 2022</text>
<text x="497.19" y="548" font-size="17.6" font-weight="normal" font-style="normal" fill="#252423" textLength="404.78" lengthAdjust="spacingAndGlyphs">Positive specimen collection date by start of week</text>
<text x="112.58" y="578.9" font-size="17.8" font-weight="bold" font-style="normal" fill="#252423" textLength="659.10" lengthAdjust="spacingAndGlyphs">In June 2022, among people ages 50 years and older, unvaccinated people had:</text>
<text x="107.57" y="706.75" font-size="17.8" font-weight="bold" font-style="normal" fill="#252423" textLength="889.11" lengthAdjust="spacingAndGlyphs">Among people ages 50 years and older, vaccinated people with a primary series and one booster dose had:</text>
<text x="442.07" y="645.6" font-size="17.2" font-weight="bold" font-style="normal" fill="#000" textLength="717.65" lengthAdjust="spacingAndGlyphs">compared to people vaccinated with a primary series and two or more booster doses.*</text>
<text x="442.32" y="767.2" font-size="17.2" font-weight="bold" font-style="normal" fill="#000" textLength="717.45" lengthAdjust="spacingAndGlyphs">compared to people vaccinated with a primary series and two or more booster doses.*</text>
<text x="248.44" y="625.2" font-size="20.3" font-weight="bold" font-style="normal" fill="#252423" textLength="35.43" lengthAdjust="spacingAndGlyphs">14X</text>
<text x="254.16" y="753.8" font-size="20.3" font-weight="bold" font-style="normal" fill="#252423" textLength="23.20" lengthAdjust="spacingAndGlyphs">3X</text>
<text x="137.39" y="662.9" font-size="19.8" font-weight="normal" font-style="italic" fill="#1d1440" textLength="259.27" lengthAdjust="spacingAndGlyphs">Risk of Dying from COVID-19</text>
<text x="137.14" y="790.9" font-size="19.8" font-weight="normal" font-style="italic" fill="#1d1440" textLength="259.27" lengthAdjust="spacingAndGlyphs">Risk of Dying from COVID-19</text>
<text x="105.40" y="820.5" font-size="14.9" font-weight="normal" font-style="italic" fill="#3b3a39" textLength="749.41" lengthAdjust="spacingAndGlyphs">Source: CDC COVID-19 Response, Epidemiology Task Force, Surveillance &amp; Analytics Team, Vaccine Breakthrough Unit</text>
<text transform="translate(243.2,438.5) rotate(-90)" x="-1.71" y="0" font-size="18.0" fill="#252423" textLength="273.41" lengthAdjust="spacingAndGlyphs">Incidence per 100,000 population</text>
<text x="287.3" y="173.60" font-size="18.8" fill="#1a1a1a" text-anchor="end">6</text>
<text x="287.3" y="282.50" font-size="18.8" fill="#1a1a1a" text-anchor="end">4</text>
<text x="287.3" y="391.40" font-size="18.8" fill="#1a1a1a" text-anchor="end">2</text>
<text x="287.3" y="500.30" font-size="18.8" fill="#1a1a1a" text-anchor="end">0</text>
</svg>
</body></html>
